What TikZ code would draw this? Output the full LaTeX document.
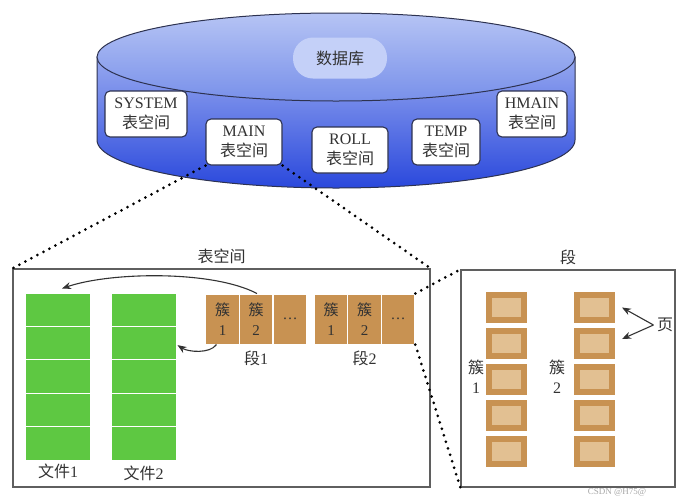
\documentclass[tikz,border=0pt]{standalone}
\usepackage{fontspec}
\setmainfont{Liberation Serif}
\newfontfamily\cjk{Noto Sans CJK SC}
\usepackage{xcolor}
\usetikzlibrary{positioning,arrows.meta}
\definecolor{dbline}{RGB}{45,50,80}
\definecolor{dbtop}{RGB}{182,196,244}
\definecolor{dbmid}{RGB}{120,144,234}
\definecolor{dbside}{RGB}{150,168,240}
\definecolor{dbdeep}{RGB}{42,72,220}
\definecolor{blob}{RGB}{196,208,248}
\definecolor{filegreen}{RGB}{94,200,66}
\definecolor{clbrown}{RGB}{200,146,82}
\definecolor{pglight}{RGB}{226,192,146}
\definecolor{txt}{RGB}{50,50,50}
\definecolor{frameline}{RGB}{95,95,95}

\begin{document}
\begin{tikzpicture}[
    x = 1pt, y = -1pt,
    every node/.style = {font = \fontsize{16}{20}\selectfont, text = txt},
    tsbox/.style = {draw = dbline, fill = white, rounded corners = 5pt,
        line width = 1.1pt, align = center, inner sep = 2pt,
        minimum width = 76pt, minimum height = 46pt},
    frame/.style = {draw = frameline, line width = 1.2pt, inner sep = 0pt},
    fcell/.style = {fill = filegreen, draw = white, line width = 1pt,
        minimum width = 65pt, minimum height = 33.4pt, inner sep = 0pt},
    ccell/.style = {fill = clbrown, draw = white, line width = 1pt, align = center,
        minimum width = 33.5pt, minimum height = 50pt, inner sep = 0pt,
        font = \fontsize{15}{20}\selectfont},
    page/.style = {fill = pglight, draw = clbrown, line width = 6pt,
        minimum width = 35pt, minimum height = 25pt, inner sep = 0pt},
    zoomline/.style = {line width = 3pt, line cap = round,
        dash pattern = on 0pt off 6.8pt},
    link/.style = {draw = txt, line width = 1.1pt,
        -{Stealth[length = 9pt, width = 7pt]}}
]
\useasboundingbox (0,0) rectangle (687,501);

\path[draw = dbline, line width = 1pt, top color = dbside, bottom color = dbdeep]
    (97,57) -- (97,140) arc[start angle = 180, end angle = 0, x radius = 239, y radius = 48]
    -- (575,57) -- cycle;
\path[draw = dbline, line width = 1pt, top color = dbtop, bottom color = dbmid]
    (336,57) ellipse[x radius = 239, y radius = 44];

\node[fill = blob, rounded corners = 20pt, minimum width = 94pt, minimum height = 41pt]
    (db) at (340,58) {\cjk 数据库};
\node[tsbox, minimum width = 82pt] (sys) at (146,114) {SYSTEM\\{\cjk 表空间}};
\node[tsbox] (main) at (244,142) {MAIN\\{\cjk 表空间}};
\node[tsbox] (roll) at (350,150) {ROLL\\{\cjk 表空间}};
\node[tsbox, minimum width = 68pt] (temp) at (446,142) {TEMP\\{\cjk 表空间}};
\node[tsbox, minimum width = 70pt] (hmain) at (532,114) {HMAIN\\{\cjk 表空间}};

\node[frame, minimum width = 417pt, minimum height = 218pt] (ts) at (221.5,378) {};
\node[above = 1pt of ts] {\cjk 表空间};
\node[frame, minimum width = 214pt, minimum height = 217pt] (seg) at (568,378.5) {};
\node[above = 1pt of seg] {\cjk 段};

\foreach \i in {0,...,4} {
    \node[fcell] (fa\i) at (58,{309.7+33.4*\i}) {};
    \node[fcell] (fb\i) at (143.5,{309.7+33.4*\i}) {};
}
\node[below = 0pt of fa4] {{\cjk 文件}1};
\node[below = 2pt of fb4] {{\cjk 文件}2};

\node[ccell] (sa1) at (222.5,319) {{\cjk 簇}\\1};
\node[ccell] (sa2) at (256,319) {{\cjk 簇}\\2};
\node[ccell] (sa3) at (290,319) {\ldots};
\node[ccell] (sb1) at (331,319) {{\cjk 簇}\\1};
\node[ccell] (sb2) at (364.5,319) {{\cjk 簇}\\2};
\node[ccell] (sb3) at (398,319) {\ldots};
\node[below = 3pt of sa2] {{\cjk 段}1};
\node[below = 3pt of sb2] {{\cjk 段}2};

\foreach \i in {0,...,4} {
    \node[page] (pa\i) at (506.5,{307.5+36*\i}) {};
    \node[page] (pb\i) at (594.5,{307.5+36*\i}) {};
}
\node[align = center] at (476,377) {{\cjk 簇}\\1};
\node[align = center] at (557,377) {{\cjk 簇}\\2};
\node (pg) at (665,325) {\cjk 页};

\draw[link] ([xshift = 1pt]sa2.north) .. controls (212,270) and (110,272) .. ([xshift = 4pt, yshift = 4pt]fa0.north);
\draw[link] ([xshift = -6pt]sa1.south) .. controls (210,354) and (188,352) .. ([xshift = 1pt, yshift = -2pt]fb1.east);
\draw[link] (pg.west) -- ([xshift = 7pt]pb0.east);
\draw[link] (pg.west) -- ([xshift = 7pt, yshift = 4.5pt]pb1.east);

\draw[zoomline] (main.south west) -- (ts.north west);
\draw[zoomline] (main.south east) -- (ts.north east);
\draw[zoomline] (sb3.north east) -- (seg.north west);
\draw[zoomline] (sb3.south east) -- (seg.south west);

\node[font = \fontsize{9}{9}\selectfont, text = gray!70] at (617,492) {CSDN @H75@};
\end{tikzpicture}
\end{document}
